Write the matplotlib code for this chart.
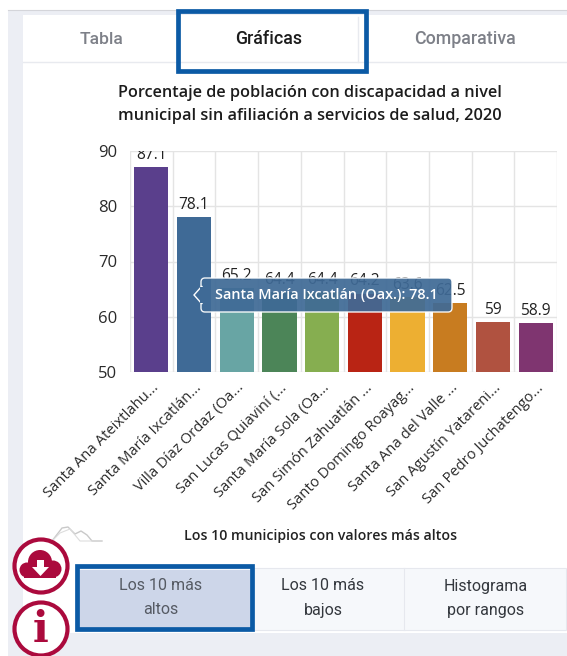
import matplotlib
matplotlib.use('Agg')
import numpy as np
from matplotlib import pyplot as plt
from matplotlib.patches import Rectangle, FancyBboxPatch, Circle, Polygon

municipios = ['Santa Ana Ateixtlahu...', 'Santa María Ixcatlán...', 'Villa Díaz Ordaz (Oa...',
              'San Lucas Quiaviní (...', 'Santa María Sola (Oa...', 'San Simón Zahuatlán ...',
              'Santo Domingo Roayag...', 'Santa Ana del Valle ...', 'San Agustín Yatareni...',
              'San Pedro Juchatengo...']
valores = [87.1, 78.1, 65.2, 64.4, 64.4, 64.2, 63.6, 62.5, 59, 58.9]
etiquetas = ['87.1', '78.1', '65.2', '64.4', '64.4', '64.2', '63.6', '62.5', '59', '58.9']
colores = ['#5a3f8c', '#3f6a96', '#68a5a4', '#4c8558', '#86ae50', '#b92414',
           '#edaf32', '#c87c20', '#b05240', '#7f3570']
yticks = [50, 60, 70, 80, 90]

W, H = 567, 656
AZUL = '#0b5aa5'
GUINDA = '#ab0a3d'

plt.rcParams['font.family'] = ['Open Sans', 'DejaVu Sans']
fig = plt.figure(figsize=(W / 100, H / 100), dpi=100)

# page behind the chart, in pixel coordinates
bg = fig.add_axes([0, 0, 1, 1], zorder=0)
bg.set_xlim(0, W)
bg.set_ylim(H, 0)
bg.axis('off')
bg.add_patch(Rectangle((8, 10), W - 8, H - 10, fc='#eceef4', ec='none'))
bg.add_patch(Rectangle((23, 15), W - 23, 618, fc='white', ec='none'))
bg.plot([8, W], [10, 10], color='#d4d5da', lw=0.8)
bg.plot([23, W], [62, 62], color='#e8eaef', lw=1)
bg.plot([358, 358], [17, 62], color='#e8eaef', lw=1)

bg.text(102, 39, 'Tabla', ha='center', va='center', fontsize=12.6, color='#7d8088', family='Roboto', weight='medium')
bg.text(269, 39, 'Gráficas', ha='center', va='center', fontsize=12.8, color='#1c1c1c', family='Roboto', weight='medium')
bg.text(465, 39, 'Comparativa', ha='center', va='center', fontsize=12.8, color='#7d8088', family='Roboto', weight='medium')

bg.text(118, 93, 'Porcentaje de población con discapacidad a nivel', ha='left', va='center',
        fontsize=11.7, color='#1c1c1c', weight='semibold')
bg.text(118, 116, 'municipal sin afiliación a servicios de salud, 2020', ha='left', va='center',
        fontsize=11.7, color='#1c1c1c', weight='semibold')
bg.text(321, 536, 'Los 10 municipios con valores más altos', ha='center', va='center',
        fontsize=10.2, color='#222222', weight='semibold')

# faint logo
bg.plot([52, 62, 68, 75, 81, 87, 92, 102], [541, 528, 527, 534, 531, 535, 541, 541], color='#c9c9c9', lw=1)
bg.plot([52, 60, 70, 80, 92], [541, 533, 529, 541, 541], color='#dddddd', lw=0.8)

# button row
bg.add_patch(Rectangle((76, 568), 490, 62, fc='#f6f8fb', ec='#e6e8ee', lw=0.8))
bg.add_patch(Rectangle((78, 570), 174, 58, fc='#cdd6e9', ec='none'))
bg.plot([404, 404], [568, 630], color='#e6e8ee', lw=0.8)
for x, a, b, c in [(161, 'Los 10 más', 'altos', '#555a63'), (323, 'Los 10 más', 'bajos', '#33373d'),
                   (486, 'Histograma', 'por rangos', '#33373d')]:
    bg.text(x, 586, a, ha='center', va='center', fontsize=11.5, color=c, family='Roboto')
    bg.text(x, 610, b, ha='center', va='center', fontsize=11.5, color=c, family='Roboto')

# the chart itself
ax = fig.add_axes([130 / W, 1 - 372 / H, (557 - 130) / W, (372 - 151) / H], zorder=1)
ax.patch.set_alpha(0)
x = np.arange(len(valores))
ax.bar(x, valores, width=0.8, color=colores, zorder=2)
ax.set_xlim(-0.5, len(valores) - 0.5)
ax.set_ylim(50, 90)
ax.set_yticks(yticks)
ax.set_xticks(x)
ax.set_xticks(np.arange(len(valores) + 1) - 0.5, minor=True)
ax.set_xticklabels(municipios, rotation=45, ha='right', va='top', rotation_mode='anchor',
                   fontsize=10.6, color='#2a2a2a')
ax.tick_params(axis='x', which='both', length=0, pad=6)
ax.tick_params(axis='y', length=0, pad=9, labelsize=12, labelcolor='#2a2a2a')
ax.grid(True, axis='y', color='#e4e4e4', lw=1, zorder=0)
ax.grid(True, axis='x', which='minor', color='#e4e4e4', lw=1, zorder=0)
ax.grid(False, axis='x', which='major')
ax.set_axisbelow(True)
for s in ax.spines.values():
    s.set_visible(False)
for xi, v, t in zip(x, valores, etiquetas):
    txt = ax.annotate(t, (xi, v), xytext=(0, 3), textcoords='offset points', ha='center', va='bottom',
                      fontsize=11.2, color='#222222', zorder=3)
    txt.set_clip_box(ax.bbox)
    txt.set_clip_on(True)

# tooltip and frames above the chart
top = fig.add_axes([0, 0, 1, 1], zorder=2)
top.set_xlim(0, W)
top.set_ylim(H, 0)
top.axis('off')
top.patch.set_alpha(0)
top.add_patch(FancyBboxPatch((204, 281), 245, 28, boxstyle='round,pad=3,rounding_size=4',
                             fc='#3f6a96', ec='white', lw=1, alpha=0.93))
top.add_patch(Polygon([[202, 286], [194, 295], [202, 304]], closed=True, fc='#3f6a96', ec='white', lw=1))
top.add_patch(Rectangle((200, 287), 6, 16, fc='#3f6a96', ec='none'))
top.text(326.5, 295, 'Santa María Ixcatlán (Oax.): 78.1', ha='center', va='center', fontsize=10.4,
         color='white', weight='semibold')

top.add_patch(Rectangle((178, 10.5), 188, 60, fc='none', ec=AZUL, lw=3.4))
top.add_patch(Rectangle((77, 566), 175, 63, fc='none', ec=AZUL, lw=3.4))

# download and info icons
for cy in (566, 629):
    top.add_patch(Circle((41, cy), 26.5, fc='white', ec=GUINDA, lw=3))
for cx, cy, r in [(27, 570, 7.5), (40, 562, 12), (53, 569, 8.5)]:
    top.add_patch(Circle((cx, cy), r, fc=GUINDA, ec='none'))
top.add_patch(Rectangle((24, 568), 32, 10, fc=GUINDA, ec='none'))
top.add_patch(Polygon([[37, 560], [44, 560], [44, 567], [49, 567], [40.5, 576], [32, 567], [37, 567]],
                      closed=True, fc='white', ec='none'))
top.text(41, 630, 'i', ha='center', va='center', fontsize=30, color=GUINDA, family='DejaVu Serif', weight='bold')

fig.savefig('out.png', dpi=100)
